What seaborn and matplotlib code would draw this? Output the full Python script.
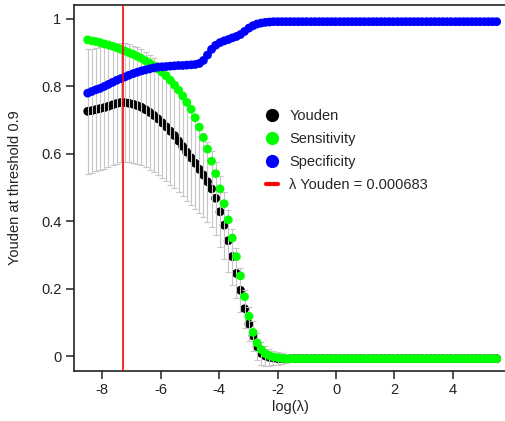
import numpy as np
import pandas as pd
import matplotlib
matplotlib.use("Agg")
import matplotlib.pyplot as plt
from matplotlib.lines import Line2D
import seaborn as sns

# ---------------- data ----------------
log_lambda = [
    -8.50, -8.36, -8.22, -8.08, -7.93, -7.79, -7.65, -7.51, -7.37, -7.23,
    -7.09, -6.94, -6.80, -6.66, -6.52, -6.38, -6.24, -6.10, -5.95, -5.81,
    -5.67, -5.53, -5.39, -5.25, -5.11, -4.96, -4.82, -4.68, -4.54, -4.40,
    -4.26, -4.12, -3.97, -3.83, -3.69, -3.55, -3.41, -3.27, -3.13, -2.98,
    -2.84, -2.70, -2.56, -2.42, -2.28, -2.14, -1.99, -1.85, -1.71, -1.57,
    -1.43, -1.29, -1.15, -1.01, -0.86, -0.72, -0.58, -0.44, -0.30, -0.16,
    -0.02, 0.13, 0.27, 0.41, 0.55, 0.69, 0.83, 0.97, 1.12, 1.26,
    1.40, 1.54, 1.68, 1.82, 1.96, 2.11, 2.25, 2.39, 2.53, 2.67,
    2.81, 2.95, 3.10, 3.24, 3.38, 3.52, 3.66, 3.80, 3.94, 4.09,
    4.23, 4.37, 4.51, 4.65, 4.79, 4.93, 5.08, 5.22, 5.36, 5.50,
]

youden = [
    0.726, 0.728, 0.731, 0.734, 0.737, 0.741, 0.745, 0.749, 0.752, 0.752,
    0.750, 0.747, 0.743, 0.738, 0.731, 0.723, 0.714, 0.704, 0.692, 0.680,
    0.667, 0.654, 0.638, 0.622, 0.605, 0.588, 0.572, 0.554, 0.537, 0.517,
    0.496, 0.468, 0.428, 0.388, 0.342, 0.295, 0.245, 0.195, 0.140, 0.095,
    0.060, 0.028, 0.008, 0.000, -0.004, -0.006, -0.008, -0.008, -0.008, -0.008,
    -0.008, -0.008, -0.008, -0.008, -0.008, -0.008, -0.008, -0.008, -0.008, -0.008,
    -0.008, -0.008, -0.008, -0.008, -0.008, -0.008, -0.008, -0.008, -0.008, -0.008,
    -0.008, -0.008, -0.008, -0.008, -0.008, -0.008, -0.008, -0.008, -0.008, -0.008,
    -0.008, -0.008, -0.008, -0.008, -0.008, -0.008, -0.008, -0.008, -0.008, -0.008,
    -0.008, -0.008, -0.008, -0.008, -0.008, -0.008, -0.008, -0.008, -0.008, -0.008,
]

youden_sd = [
    0.185, 0.184, 0.183, 0.182, 0.181, 0.180, 0.179, 0.178, 0.177, 0.176,
    0.175, 0.174, 0.173, 0.172, 0.171, 0.170, 0.169, 0.167, 0.165, 0.162,
    0.159, 0.156, 0.152, 0.148, 0.144, 0.140, 0.135, 0.130, 0.124, 0.118,
    0.113, 0.109, 0.105, 0.099, 0.092, 0.083, 0.074, 0.065, 0.056, 0.050,
    0.045, 0.040, 0.035, 0.029, 0.025, 0.022, 0.019, 0.016, 0.013, 0.011,
    0.008, 0.006, 0.004, 0.003, 0.002, 0.001, 0.0, 0.0, 0.0, 0.0,
    0.0, 0.0, 0.0, 0.0, 0.0, 0.0, 0.0, 0.0, 0.0, 0.0,
    0.0, 0.0, 0.0, 0.0, 0.0, 0.0, 0.0, 0.0, 0.0, 0.0,
    0.0, 0.0, 0.0, 0.0, 0.0, 0.0, 0.0, 0.0, 0.0, 0.0,
    0.0, 0.0, 0.0, 0.0, 0.0, 0.0, 0.0, 0.0, 0.0, 0.0,
]

sensitivity = [
    0.938, 0.935, 0.933, 0.930, 0.926, 0.923, 0.919, 0.915, 0.910, 0.905,
    0.900, 0.895, 0.889, 0.883, 0.876, 0.869, 0.861, 0.852, 0.842, 0.831,
    0.818, 0.804, 0.789, 0.772, 0.753, 0.732, 0.707, 0.679, 0.648, 0.614,
    0.578, 0.541, 0.496, 0.452, 0.404, 0.350, 0.295, 0.238, 0.176, 0.118,
    0.070, 0.039, 0.019, 0.007, 0.001, -0.003, -0.005, -0.007, -0.008, -0.008,
    -0.008, -0.008, -0.008, -0.008, -0.008, -0.008, -0.008, -0.008, -0.008, -0.008,
    -0.008, -0.008, -0.008, -0.008, -0.008, -0.008, -0.008, -0.008, -0.008, -0.008,
    -0.008, -0.008, -0.008, -0.008, -0.008, -0.008, -0.008, -0.008, -0.008, -0.008,
    -0.008, -0.008, -0.008, -0.008, -0.008, -0.008, -0.008, -0.008, -0.008, -0.008,
    -0.008, -0.008, -0.008, -0.008, -0.008, -0.008, -0.008, -0.008, -0.008, -0.008,
]

specificity = [
    0.780, 0.785, 0.790, 0.794, 0.800, 0.806, 0.812, 0.818, 0.823, 0.828,
    0.833, 0.838, 0.842, 0.846, 0.849, 0.852, 0.855, 0.857, 0.858, 0.859,
    0.860, 0.861, 0.862, 0.862, 0.863, 0.864, 0.865, 0.868, 0.877, 0.893,
    0.910, 0.922, 0.930, 0.935, 0.939, 0.944, 0.948, 0.954, 0.963, 0.973,
    0.980, 0.985, 0.988, 0.990, 0.991, 0.992, 0.992, 0.992, 0.992, 0.992,
    0.992, 0.992, 0.992, 0.992, 0.992, 0.992, 0.992, 0.992, 0.992, 0.992,
    0.992, 0.992, 0.992, 0.992, 0.992, 0.992, 0.992, 0.992, 0.992, 0.992,
    0.992, 0.992, 0.992, 0.992, 0.992, 0.992, 0.992, 0.992, 0.992, 0.992,
    0.992, 0.992, 0.992, 0.992, 0.992, 0.992, 0.992, 0.992, 0.992, 0.992,
    0.992, 0.992, 0.992, 0.992, 0.992, 0.992, 0.992, 0.992, 0.992, 0.992,
]

lambda_youden = 0.000683
legend_labels = ["Youden", "Sensitivity", "Specificity", "λ Youden = 0.000683"]
x_ticks = [-8, -6, -4, -2, 0, 2, 4]
x_tick_labels = ["-8", "-6", "-4", "-2", "0", "2", "4"]
y_ticks = [0, 0.2, 0.4, 0.6, 0.8, 1]
y_tick_labels = ["0", "0.2", "0.4", "0.6", "0.8", "1"]

# ---------------- plotting ----------------
sns.set_style("ticks")
plt.rcParams["font.family"] = ["Liberation Sans", "DejaVu Sans"]

df = pd.DataFrame({
    "log_lambda": log_lambda,
    "youden": youden,
    "youden_sd": youden_sd,
    "sensitivity": sensitivity,
    "specificity": specificity,
})

W, H = 506, 421
fig = plt.figure(figsize=(W / 100, H / 100), dpi=100)
ax = fig.add_axes([74 / W, 50 / H, (W - 74) / W, 366 / H])

dot = 40
sns.scatterplot(data=df, x="log_lambda", y="youden", color="black", s=dot,
                edgecolor="none", linewidth=0, ax=ax, legend=False, zorder=2)
ax.errorbar(df["log_lambda"], df["youden"], yerr=df["youden_sd"], fmt="none",
            ecolor="#c6c6c6", elinewidth=0.8, capsize=2.5, capthick=0.8, zorder=3)
sns.scatterplot(data=df, x="log_lambda", y="sensitivity", color="#00ff00", s=dot,
                edgecolor="none", linewidth=0, ax=ax, legend=False, zorder=4)
sns.scatterplot(data=df, x="log_lambda", y="specificity", color="#0000ff", s=dot,
                edgecolor="none", linewidth=0, ax=ax, legend=False, zorder=5)
ax.axvline(np.log(lambda_youden), color="#ff0000", lw=1.2, zorder=6)

ax.set_xlim(-8.97, 5.82)
ax.set_ylim(-0.0445, 1.0415)
ax.set_xticks(x_ticks)
ax.set_xticklabels(x_tick_labels)
ax.set_yticks(y_ticks)
ax.set_yticklabels(y_tick_labels)

ax.set_xlabel("log(λ)", fontsize=10.5, color="#222222", labelpad=2)
ax.set_ylabel("Youden at threshold 0.9", fontsize=10.5, color="#222222", labelpad=14)

ax.tick_params(axis="both", direction="out", length=6, width=1.1,
               labelsize=10.5, pad=3, colors="#222222")
for side in ["left", "bottom", "top"]:
    ax.spines[side].set_visible(True)
    ax.spines[side].set_linewidth(1.2)
    ax.spines[side].set_color("#222222")
ax.spines["right"].set_visible(False)

handles = [
    Line2D([], [], marker="o", ls="none", color="black", markersize=9.5, markeredgewidth=0),
    Line2D([], [], marker="o", ls="none", color="#00ff00", markersize=9.5, markeredgewidth=0),
    Line2D([], [], marker="o", ls="none", color="#0000ff", markersize=9.5, markeredgewidth=0),
    Line2D([], [], color="#ff0000", lw=3),
]
fig.legend(handles, legend_labels, loc="upper left",
           bbox_to_anchor=(266 / W, 1 - 109 / H), bbox_transform=fig.transFigure,
           frameon=False, fontsize=10.5, handlelength=0.8, handletextpad=0.8,
           labelspacing=0.62, borderpad=0, borderaxespad=0)

fig.savefig("out.png", dpi=100)
